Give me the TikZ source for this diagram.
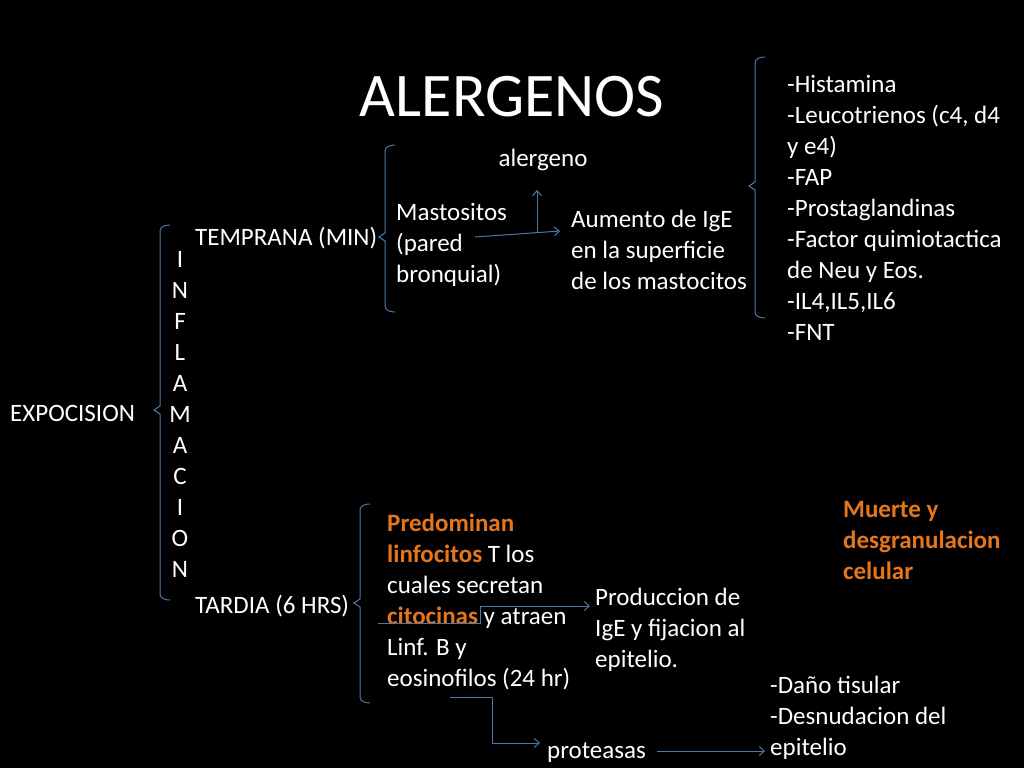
\documentclass[tikz,border=0pt]{standalone}
\usepackage{fontspec}
\setmainfont{Carlito}
\usetikzlibrary{arrows.meta}
\definecolor{lnblue}{RGB}{79,119,170}
\definecolor{hiorange}{RGB}{228,118,30}
\newcommand{\brk}[4]{% x, top, bottom, middle
  \draw[brace] (#1+10,#2) to[out=180,in=90] (#1,#2+6) -- (#1,#4-4) -- (#1-6,#4)
    -- (#1,#4+4) -- (#1,#3-6) to[out=-90,in=180] (#1+10,#3);}
\tikzset{
  txt/.style={text=white, anchor=base west, align=left, inner sep=0pt,
    font=\fontsize{25}{31}\selectfont},
  blk/.style={txt, anchor=north west},
  brace/.style={draw=lnblue, line width=1pt},
  link/.style={draw=lnblue, line width=1pt, -{Straight Barb[length=5pt,width=9pt]}}
}
\begin{document}
\begin{tikzpicture}[x=1pt, y=-1pt]
\fill[black] (0,0) rectangle (1024,768);
\useasboundingbox (0,0) rectangle (1024,768);

% title
\node[text=white, font=\fontsize{62}{70}\selectfont] (title) at (512,97) {ALERGENOS};

% left side
\node[txt] (expo) at (10,421) {EXPOCISION};
\node[blk, anchor=north, align=center] (infl) at (180,246)
  {\strut I\\N\\F\\L\\A\\M\\A\\C\\I\\O\\N};
\node[txt] (temp) at (195,245) {TEMPRANA (MIN)};
\node[txt] (tard) at (195,613) {TARDIA (6 HRS)};

% early branch
\node[blk] (masto) at (396,199) {\strut Mastositos\\(pared\\bronquial)};
\node[txt, anchor=base] (aler) at (543,166) {alergeno};
\node[blk] (aum) at (571,206) {\strut Aumento de IgE\\en la superficie\\de los mastocitos};
\node[blk] (medi) at (787,71) {\strut -Histamina\\-Leucotrienos (c4, d4\\y e4)\\-FAP\\-Prostaglandinas\\-Factor quimiotactica\\de Neu y Eos.\\-IL4,IL5,IL6\\-FNT};

% late branch
\node[blk] (pred) at (387,510)
  {\strut\textcolor{hiorange}{\bfseries Predominan}\\\textcolor{hiorange}{\bfseries linfocitos} T los\\cuales secretan\\\textcolor{hiorange}{\bfseries citocinas} y atraen\\Linf. B y\\eosinofilos (24 hr)};
\node[blk] (prod) at (595,584) {\strut Produccion de\\IgE y fijacion al\\epitelio.};
\node[blk, text=hiorange, font=\fontsize{25}{31}\selectfont\bfseries] (muer) at (843,496) {\strut Muerte y\\desgranulacion\\celular};
\node[txt] (prot) at (547,758) {proteasas};
\node[blk] (dano) at (770,672) {\strut -Daño tisular\\-Desnudacion del\\epitelio};

% braces
\brk{160}{225}{600}{410}
\brk{385}{145}{312}{237}
\brk{360}{504}{703}{603}
\brk{755}{57}{318}{186}

% connectors
\coordinate (m1) at (475,237);
\coordinate (m2) at (537,233);
\draw[link] (m1) -- (560,231);
\draw[link] (m2) -- (537,190);
\coordinate (c1) at (378,623);
\draw[link] (c1) -- (480,623) -- (480,606) -- (590,606);
\coordinate (p1) at (450,697);
\draw[link] (p1) -- (492,697) -- (492,743) -- (540,743);
\coordinate (q1) at (657,751);
\draw[link] (q1) -- (765,751);
\end{tikzpicture}
\end{document}
